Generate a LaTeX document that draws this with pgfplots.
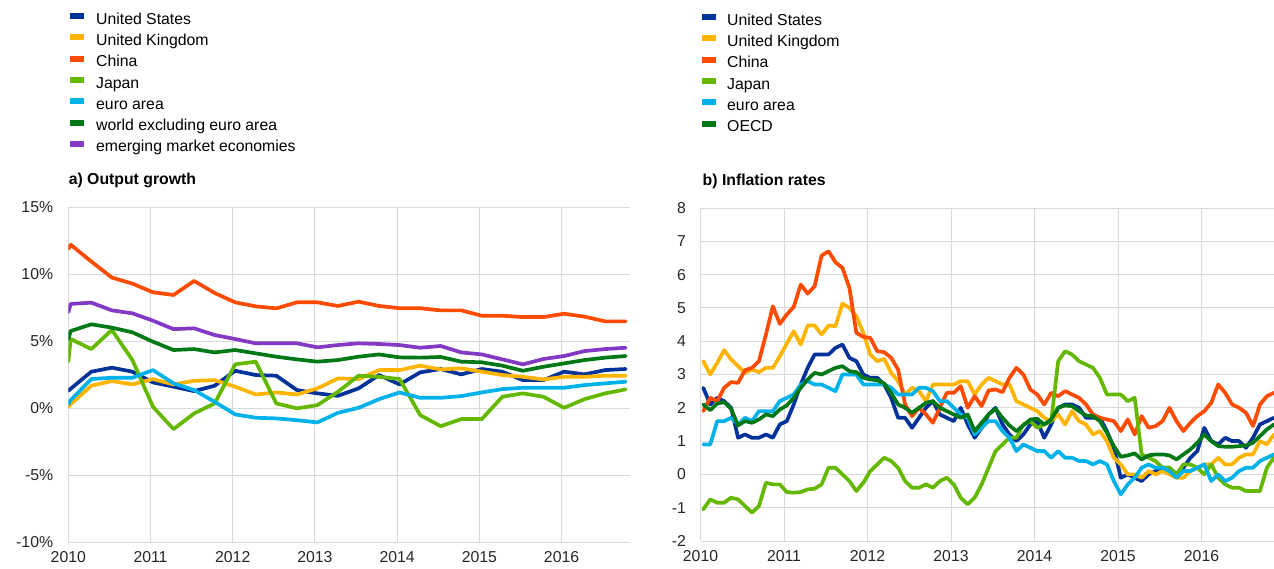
\documentclass[border=0pt]{standalone}
\usepackage{fontspec}
\setmainfont{Liberation Sans}
\usepackage{pgfplots}
\usepackage{pgfplotstable}
\pgfplotsset{compat=1.18}

\definecolor{cUS}{RGB}{0,50,153}
\definecolor{cUK}{RGB}{255,180,0}
\definecolor{cCN}{RGB}{255,75,0}
\definecolor{cJP}{RGB}{101,184,0}
\definecolor{cEA}{RGB}{0,177,234}
\definecolor{cWX}{RGB}{0,120,22}
\definecolor{cEM}{RGB}{129,57,198}
\definecolor{gridc}{RGB}{217,217,217}

% a) Output growth, quarterly (x in quarters since 2010)
\pgfplotstableread{
x us uk cn jp ea wx em
0.00 1.30 0.10 11.90 3.47 0.30 5.16 7.16
0.12 1.45 0.30 12.20 5.16 0.60 5.76 7.78
1.12 2.72 1.67 10.95 4.41 2.17 6.26 7.88
2.12 3.02 2.02 9.75 5.84 2.27 6.01 7.30
3.12 2.72 1.77 9.30 3.59 2.27 5.66 7.08
4.12 1.92 2.17 8.65 0.10 2.84 4.96 6.53
5.12 1.60 1.77 8.45 -1.57 1.85 4.34 5.90
6.12 1.27 2.04 9.50 -0.40 1.35 4.41 5.96
7.12 1.67 2.09 8.60 0.35 0.47 4.16 5.46
8.12 2.79 1.60 7.90 3.27 -0.47 4.34 5.16
9.12 2.47 1.02 7.60 3.47 -0.72 4.09 4.84
10.12 2.42 1.17 7.45 0.35 -0.77 3.84 4.84
11.12 1.35 1.02 7.90 -0.02 -0.90 3.64 4.84
12.12 1.10 1.47 7.90 0.22 -1.07 3.47 4.54
13.12 0.92 2.22 7.63 1.22 -0.35 3.59 4.71
14.12 1.47 2.17 7.95 2.42 0.02 3.84 4.84
15.12 2.47 2.84 7.63 2.34 0.67 4.01 4.79
16.12 1.77 2.84 7.46 2.17 1.17 3.79 4.71
17.12 2.67 3.17 7.46 -0.52 0.77 3.77 4.51
18.12 2.92 2.89 7.30 -1.35 0.77 3.82 4.64
19.12 2.52 2.97 7.30 -0.82 0.90 3.47 4.16
20.12 2.92 2.72 6.90 -0.82 1.17 3.42 4.01
21.12 2.72 2.47 6.90 0.85 1.42 3.17 3.64
22.12 2.09 2.34 6.80 1.10 1.52 2.79 3.27
23.12 2.09 2.14 6.80 0.85 1.52 3.09 3.67
24.12 2.72 2.34 7.05 0.02 1.52 3.34 3.89
25.12 2.52 2.34 6.83 0.67 1.72 3.59 4.26
26.12 2.84 2.42 6.48 1.10 1.85 3.77 4.41
27.12 2.92 2.42 6.48 1.40 1.97 3.89 4.51
}\gdp

% b) Inflation rates, monthly (m = months since Jan 2010)
\pgfplotstableread{
m us uk cn jp ea oecd
0 2.6 3.4 1.9 -1.05 0.9 2.1
1 2.1 3.0 2.3 -0.75 0.9 1.93
2 2.3 3.35 2.2 -0.85 1.6 2.13
3 2.2 3.73 2.6 -0.85 1.6 2.17
4 2.0 3.45 2.77 -0.7 1.7 1.97
5 1.1 3.25 2.75 -0.75 1.5 1.47
6 1.2 3.05 3.13 -0.95 1.7 1.6
7 1.1 3.15 3.2 -1.15 1.6 1.55
8 1.1 3.07 3.4 -0.95 1.9 1.65
9 1.2 3.2 4.2 -0.25 1.9 1.8
10 1.1 3.2 5.05 -0.3 1.9 1.75
11 1.5 3.55 4.52 -0.3 2.2 1.95
12 1.6 3.93 4.8 -0.53 2.3 2.07
13 2.1 4.3 5.03 -0.55 2.4 2.3
14 2.7 3.9 5.7 -0.53 2.7 2.6
15 3.2 4.47 5.43 -0.45 2.8 2.85
16 3.6 4.47 5.65 -0.43 2.7 3.05
17 3.6 4.2 6.57 -0.3 2.7 3.0
18 3.6 4.47 6.7 0.2 2.6 3.1
19 3.8 4.45 6.37 0.2 2.5 3.2
20 3.9 5.13 6.2 0.0 3.0 3.25
21 3.5 5.0 5.6 -0.2 3.0 3.1
22 3.4 4.75 4.25 -0.5 3.0 3.07
23 3.0 4.25 4.13 -0.25 2.7 2.9
24 2.9 3.6 4.1 0.1 2.7 2.85
25 2.9 3.4 3.7 0.3 2.7 2.83
26 2.7 3.47 3.67 0.5 2.7 2.73
27 2.3 3.05 3.5 0.4 2.6 2.45
28 1.7 2.8 3.15 0.2 2.4 2.1
29 1.7 2.4 2.1 -0.2 2.4 2.0
30 1.4 2.6 1.75 -0.4 2.4 1.85
31 1.7 2.5 2.0 -0.4 2.6 2.0
32 2.0 2.2 1.8 -0.3 2.6 2.15
33 2.2 2.7 1.55 -0.4 2.5 2.2
34 1.8 2.7 2.0 -0.2 2.2 2.0
35 1.7 2.7 2.45 -0.1 2.2 1.9
36 1.6 2.7 2.45 -0.3 2.0 1.8
37 2.0 2.8 2.65 -0.7 1.8 1.7
38 1.5 2.8 2.0 -0.9 1.7 1.8
39 1.1 2.4 2.35 -0.7 1.2 1.3
40 1.4 2.7 2.05 -0.3 1.4 1.55
41 1.8 2.9 2.52 0.2 1.6 1.8
42 2.0 2.8 2.55 0.7 1.6 1.97
43 1.5 2.7 2.47 0.9 1.3 1.7
44 1.2 2.7 2.9 1.1 1.1 1.47
45 1.0 2.2 3.2 1.1 0.7 1.3
46 1.2 2.1 3.0 1.5 0.9 1.47
47 1.5 2.0 2.55 1.6 0.8 1.65
48 1.6 1.9 2.4 1.4 0.7 1.67
49 1.1 1.7 2.1 1.5 0.7 1.5
50 1.5 1.6 2.45 1.6 0.5 1.65
51 2.0 1.8 2.35 3.4 0.7 2.0
52 2.1 1.5 2.5 3.7 0.5 2.07
53 2.1 1.9 2.4 3.6 0.5 2.05
54 2.0 1.6 2.3 3.4 0.4 1.9
55 1.7 1.5 2.1 3.3 0.4 1.77
56 1.7 1.2 1.8 3.2 0.3 1.75
57 1.7 1.3 1.7 2.9 0.4 1.6
58 1.3 1.0 1.65 2.4 0.3 1.25
59 0.8 0.5 1.6 2.4 -0.2 0.85
60 -0.1 0.3 1.3 2.4 -0.6 0.53
61 0.0 0.0 1.65 2.2 -0.3 0.57
62 -0.1 0.0 1.2 2.3 -0.1 0.63
63 -0.2 -0.1 1.75 0.6 0.2 0.45
64 0.0 0.1 1.4 0.5 0.3 0.57
65 0.1 0.0 1.45 0.4 0.2 0.6
66 0.2 0.1 1.6 0.2 0.2 0.6
67 0.2 0.0 2.0 0.2 0.1 0.57
68 0.0 -0.1 1.6 0.0 -0.1 0.45
69 0.2 -0.1 1.3 0.3 0.1 0.6
70 0.5 0.1 1.55 0.3 0.1 0.75
71 0.7 0.2 1.75 0.2 0.2 0.95
72 1.4 0.3 1.9 0.0 0.3 1.2
73 1.0 0.3 2.15 0.3 -0.2 1.0
74 0.9 0.5 2.7 -0.1 0.0 0.85
75 1.1 0.3 2.45 -0.3 -0.2 0.83
76 1.0 0.3 2.1 -0.4 -0.1 0.83
77 1.0 0.5 2.0 -0.4 0.1 0.85
78 0.8 0.6 1.85 -0.5 0.2 0.87
79 1.1 0.6 1.45 -0.5 0.2 0.95
80 1.5 1.0 2.1 -0.5 0.4 1.15
81 1.6 0.9 2.35 0.2 0.5 1.35
82 1.7 1.2 2.45 0.5 0.6 1.5
}\cpi

\newcommand{\chartfont}{\fontsize{15.8}{18}\selectfont}

\pgfplotsset{
  ecb/.style={
    scale only axis,
    clip mode=individual,
    axis line style={draw=none},
    tick style={draw=none},
    grid=major,
    major grid style={gridc, line width=0.9pt},
    tick label style={font=\chartfont, text=black!85},
    yticklabel style={inner sep=0pt, xshift=-15pt},
    xticklabel style={inner sep=0pt, yshift=-9.5pt},
    legend cell align=left,
    legend style={draw=none, fill=none, inner sep=0pt,
      at={(axis description cs:0,1)}, anchor=north west,
      font=\chartfont, row sep=5.3pt,
      nodes={inner sep=1pt, text height=11pt, text depth=3pt}},
    legend image code/.code={\draw[##1, line width=6pt, line cap=butt] (0pt,4pt) -- (14pt,4pt);},
    every axis plot/.append style={line width=3.7pt, line join=round, line cap=round, no markers},
  }
}

\begin{document}
\begin{tikzpicture}
\useasboundingbox (0,0) rectangle (1274pt,569pt);

\begin{axis}[ecb,
  at={(68.3pt,27pt)}, anchor=south west,
  width=561.7pt, height=334.7pt,
  xmin=0, xmax=27.33, ymin=-10, ymax=15,
  xtick={0,4,8,12,16,20,24},
  xticklabels={2010,2011,2012,2013,2014,2015,2016},
  ytick={-10,-5,0,5,10,15},
  yticklabels={-10\%,-5\%,0\%,5\%,10\%,15\%},
  legend style={yshift=195.3pt, xshift=-1.3pt, column sep=8pt},
]
\addplot[cUS] table[x=x,y=us]{\gdp};
\addlegendentry{United States}
\addplot[cUK] table[x=x,y=uk]{\gdp};
\addlegendentry{United Kingdom}
\addplot[cCN] table[x=x,y=cn]{\gdp};
\addlegendentry{China}
\addplot[cJP] table[x=x,y=jp]{\gdp};
\addlegendentry{Japan}
\addplot[cEA] table[x=x,y=ea]{\gdp};
\addlegendentry{euro area}
\addplot[cWX] table[x=x,y=wx]{\gdp};
\addlegendentry{world excluding euro area}
\addplot[cEM] table[x=x,y=em]{\gdp};
\addlegendentry{emerging market economies}
\node[anchor=base west, inner sep=0pt, font=\chartfont\bfseries] at (rel axis cs:0,1) [yshift=22.8pt, xshift=0.3pt] {a) Output growth};
\end{axis}

\begin{axis}[ecb,
  at={(700.5pt,28pt)}, anchor=south west,
  width=573.5pt, height=333pt,
  xmin=-0.4, xmax=82.02, ymin=-2, ymax=8,
  xtick={-0.4,11.6,23.6,35.6,47.6,59.6,71.6},
  xticklabels={2010,2011,2012,2013,2014,2015,2016},
  ytick={-2,-1,0,1,2,3,4,5,6,7,8},
  yticklabels={-2,-1,0,1,2,3,4,5,6,7,8},
  yticklabel style={xshift=0.5pt},
  legend style={yshift=195pt, xshift=-1.5pt, column sep=7pt},
]
\addplot[cUS] table[x=m,y=us]{\cpi};
\addlegendentry{United States}
\addplot[cUK] table[x=m,y=uk]{\cpi};
\addlegendentry{United Kingdom}
\addplot[cCN] table[x=m,y=cn]{\cpi};
\addlegendentry{China}
\addplot[cJP] table[x=m,y=jp]{\cpi};
\addlegendentry{Japan}
\addplot[cEA] table[x=m,y=ea]{\cpi};
\addlegendentry{euro area}
\addplot[cWX] table[x=m,y=oecd]{\cpi};
\addlegendentry{OECD}
\node[anchor=base west, inner sep=0pt, font=\chartfont\bfseries] at (rel axis cs:0,1) [yshift=22pt, xshift=2pt] {b) Inflation rates};
\end{axis}
\end{tikzpicture}
\end{document}
